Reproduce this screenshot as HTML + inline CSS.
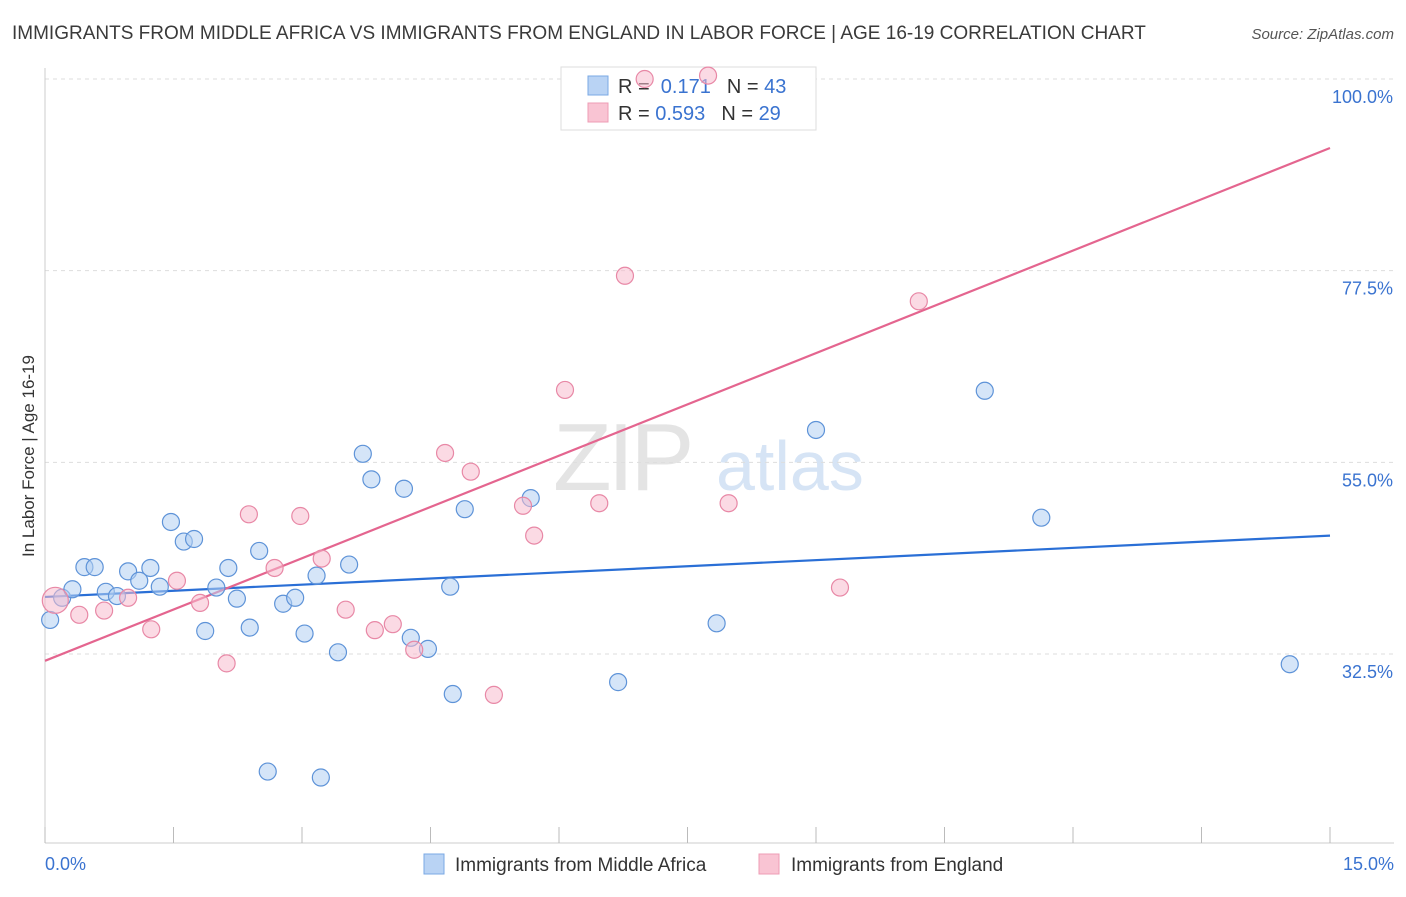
<!DOCTYPE html>
<html><head><meta charset="utf-8"><style>
body{margin:0;background:#fff;font-family:"Liberation Sans",sans-serif;}
svg text{font-family:"Liberation Sans",sans-serif;}
</style></head><body>
<svg id="chart" width="1406" height="892" viewBox="0 0 1406 892" xmlns="http://www.w3.org/2000/svg">
<text x="12" y="39" font-size="19" fill="#3a3a3a">IMMIGRANTS FROM MIDDLE AFRICA VS IMMIGRANTS FROM ENGLAND IN LABOR FORCE | AGE 16-19 CORRELATION CHART</text>
<text x="1394" y="39" font-size="15" fill="#555" text-anchor="end" font-style="italic">Source: ZipAtlas.com</text>
<text x="553" y="490" font-size="96" fill="#e4e4e4" font-family="Liberation Serif" letter-spacing="-4">ZIP</text>
<text x="716" y="490" font-size="70" fill="#d6e4f5">atlas</text>
<g id="grid"></g>
<g id="axes"></g>
<g>
<rect x="561" y="67" width="255" height="63" fill="#fff" stroke="#ddd"/>
<rect x="588" y="76" width="20" height="19" fill="#b9d3f4" stroke="#7aa8e4"/>
<rect x="588" y="103" width="20" height="19" fill="#f9c4d3" stroke="#ee9cb5"/>
<text x="618" y="93" font-size="20" fill="#333">R = <tspan fill="#3a73d0">&#160;0.171</tspan><tspan dx="16">N = </tspan><tspan fill="#3a73d0">43</tspan></text>
<text x="618" y="120" font-size="20" fill="#333">R = <tspan fill="#3a73d0">0.593</tspan><tspan dx="16">N = </tspan><tspan fill="#3a73d0">29</tspan></text>
</g>
<g id="trends"></g>
<g id="points"></g>
<text transform="translate(34,456) rotate(-90)" font-size="17" fill="#333" text-anchor="middle">In Labor Force | Age 16-19</text>
<text x="45" y="870" font-size="18" fill="#3a73d0">0.0%</text>
<text x="1394" y="870" font-size="18" fill="#3a73d0" text-anchor="end">15.0%</text>
<g>
<rect x="424" y="854" width="20" height="20" fill="#b9d3f4" stroke="#7aa8e4"/>
<text x="455" y="871" font-size="19" fill="#333">Immigrants from Middle Africa</text>
<rect x="759" y="854" width="20" height="20" fill="#f9c4d3" stroke="#ee9cb5"/>
<text x="791" y="871" font-size="19" fill="#333">Immigrants from England</text>
</g>
</svg>
<script>
const yTicks=[100,77.5,55,32.5];
const yTickLabels=["100.0%","77.5%","55.0%","32.5%"];
const xTicks=[0,1.5,3,4.5,6,7.5,9,10.5,12,13.5,15];
const blueX=[0.06,0.20,0.32,0.46,0.58,0.71,0.84,0.97,1.10,1.23,1.34,1.47,1.62,1.74,1.87,2.00,2.14,2.24,2.39,2.50,2.60,2.78,2.92,3.03,3.17,3.22,3.42,3.55,3.71,3.81,4.19,4.27,4.47,4.73,4.76,4.90,5.67,6.69,7.84,9.00,10.97,11.63,14.53];
const blueY=[36.5,39.1,40.1,42.7,42.7,39.8,39.3,42.2,41.1,42.6,40.4,48.0,45.7,46.0,35.2,40.3,42.6,39.0,35.6,44.6,18.7,38.4,39.1,34.9,41.7,18.0,32.7,43.0,56.0,53.0,51.9,34.4,33.1,40.4,27.8,49.5,50.8,29.2,36.1,58.8,63.4,48.5,31.3];
const pinkX=[0.12,0.40,0.69,0.97,1.24,1.54,1.81,2.12,2.38,2.68,2.98,3.23,3.51,3.85,4.06,4.31,4.67,4.97,5.24,5.58,5.71,6.07,6.47,6.77,7.00,7.74,7.98,9.28,10.20];
const pinkY=[38.8,37.1,37.6,39.1,35.4,41.1,38.5,31.4,48.9,42.6,48.7,43.7,37.7,35.3,36.0,33.0,56.1,53.9,27.7,49.9,46.4,63.5,50.2,76.9,100,100.4,50.2,40.3,73.9];
const blueTrend=[39.2,46.4];
const pinkTrend=[31.7,91.9];
const trendX=[0,15];

const NS="http://www.w3.org/2000/svg";
function xs(v){return 45+v*(1285/15);}
function ys(v){return 79+(100-v)*(575/67.5);}
function mk(tag,attrs,parent){const e=document.createElementNS(NS,tag);for(const k in attrs)e.setAttribute(k,attrs[k]);parent.appendChild(e);return e;}
const grid=document.getElementById('grid'),axes=document.getElementById('axes'),trends=document.getElementById('trends'),pts=document.getElementById('points');
yTicks.forEach((t,i)=>{
  const l=mk('line',{x1:45,x2:1394,y1:ys(t),y2:ys(t),stroke:'#ddd','stroke-dasharray':'4,4'},grid);
  
  
  const tx=mk('text',{x:1393,y:ys(t)+24,'font-size':18,fill:'#3a73d0','text-anchor':'end'},grid);
  tx.textContent=yTickLabels[i];
  
  
});
const ax=mk('line',{x1:45,x2:1394,y1:843,y2:843,stroke:'#ccc'},axes);


const ay=mk('line',{x1:45,x2:45,y1:68,y2:843,stroke:'#ccc'},axes);


xTicks.forEach(t=>{
  const l=mk('line',{x1:xs(t),x2:xs(t),y1:827,y2:843,stroke:'#bbb'},axes);
  
  
});
function dots(X,Y,fill,stroke,name){
  X.forEach((x,i)=>{
    const c=mk('circle',{cx:xs(x),cy:ys(Y[i]),r:(i===0&&name==='pink-point')?13:8.5,fill:fill,'fill-opacity':0.55,stroke:stroke,'stroke-width':1.2},pts);
    
    
  });
}
dots(blueX,blueY,'#b3cff2','#5e93d8','blue-point');
dots(pinkX,pinkY,'#f8bccd','#e888a6','pink-point');
const bt=mk('line',{x1:xs(trendX[0]),x2:xs(trendX[1]),y1:ys(blueTrend[0]),y2:ys(blueTrend[1]),stroke:'#2a6fd6','stroke-width':2.2},trends);


const pt=mk('line',{x1:xs(trendX[0]),x2:xs(trendX[1]),y1:ys(pinkTrend[0]),y2:ys(pinkTrend[1]),stroke:'#e4658f','stroke-width':2.2},trends);


</script>
</body></html>
